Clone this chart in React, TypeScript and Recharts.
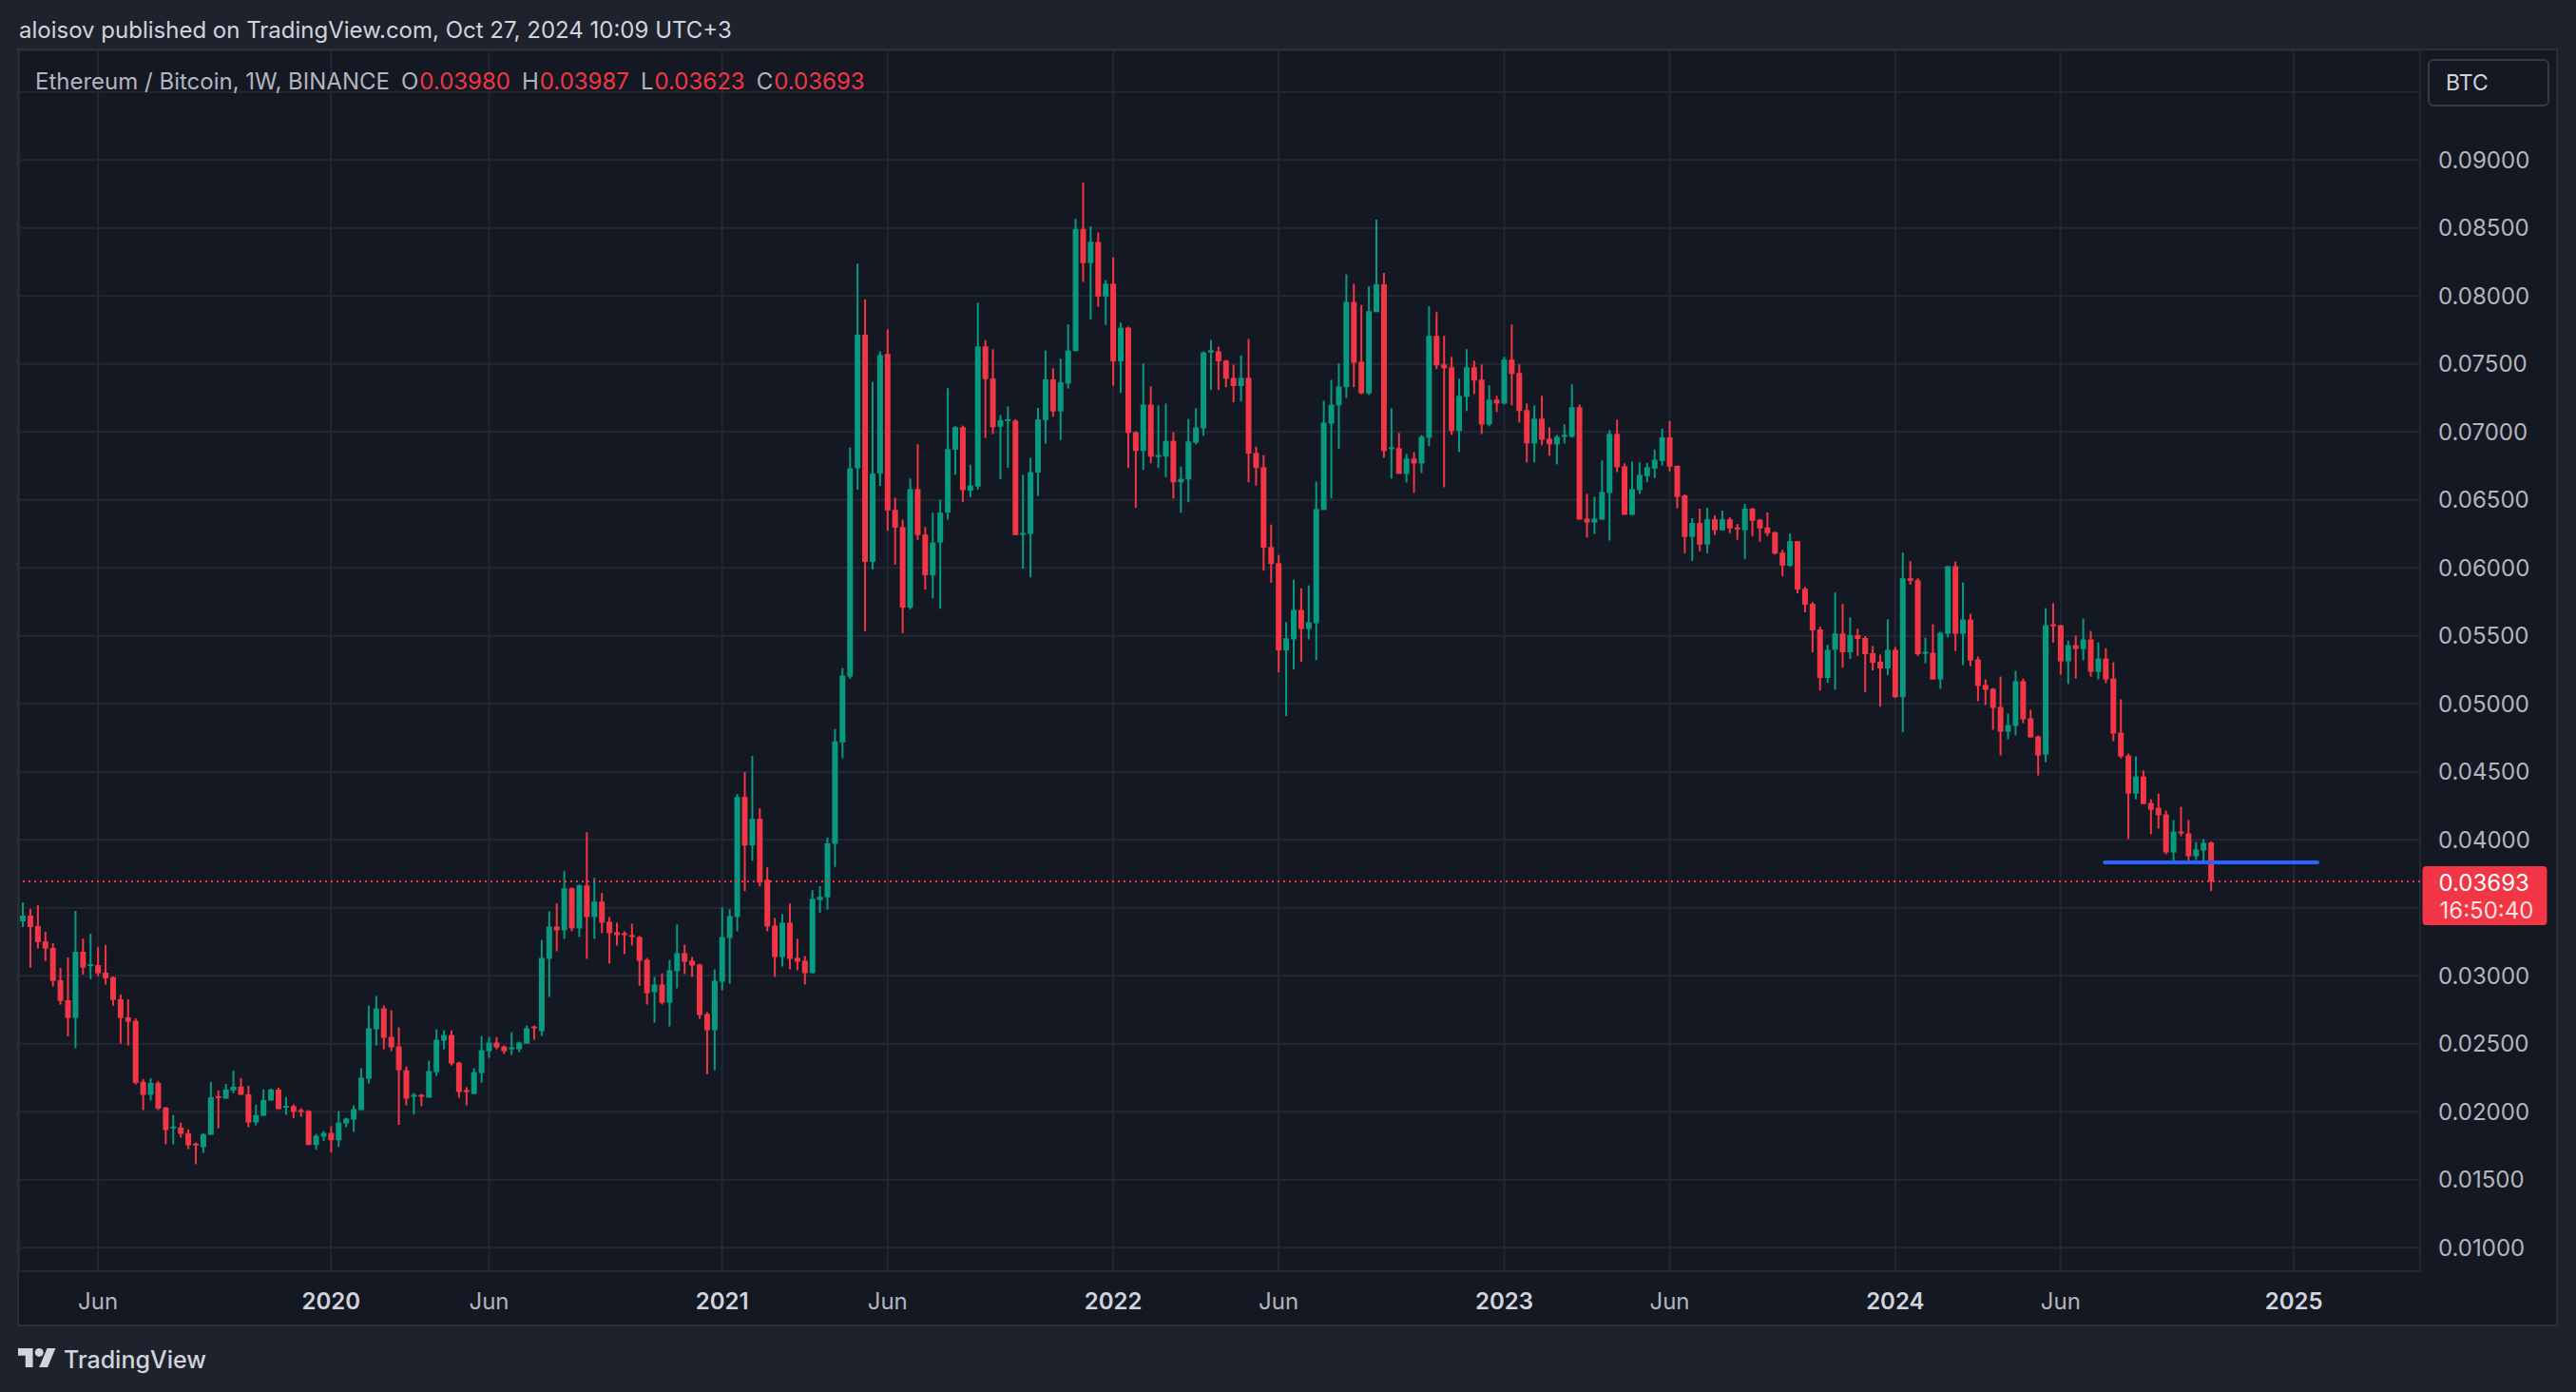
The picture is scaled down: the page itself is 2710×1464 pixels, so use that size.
import { Bar, CartesianGrid, ComposedChart, ReferenceLine, XAxis, YAxis } from 'recharts'

// ETH/BTC weekly candles (Binance). Week 1 opens Mon 2019-03-25.
const FIRST_WEEK = '2019-03-25'

const OPEN = [
  0.03400, 0.03442, 0.03365, 0.03253, 0.03204, 0.02967, 0.02820, 0.02690, 0.03176, 0.03071,
  0.03078, 0.03023, 0.02990, 0.02827, 0.02694, 0.02668, 0.02219, 0.02124, 0.02212, 0.02030,
  0.01879, 0.01884, 0.01842, 0.01765, 0.01739, 0.01830, 0.02114, 0.02096, 0.02156, 0.02184,
  0.02128, 0.01921, 0.01970, 0.02082, 0.02163, 0.02030, 0.02040, 0.02012, 0.02005, 0.01755,
  0.01816, 0.01844, 0.01790, 0.01914, 0.01942, 0.02012, 0.02242, 0.02606, 0.02760, 0.02550,
  0.02480, 0.02305, 0.02110, 0.02124, 0.02103, 0.02291, 0.02522, 0.02564, 0.02361, 0.02159,
  0.02131, 0.02284, 0.02445, 0.02508, 0.02480, 0.02459, 0.02459, 0.02501, 0.02627, 0.02592,
  0.03124, 0.03362, 0.03334, 0.03643, 0.03348, 0.03664, 0.03432, 0.03545, 0.03397, 0.03320,
  0.03313, 0.03299, 0.03285, 0.03117, 0.02879, 0.02935, 0.02802, 0.03033, 0.03166, 0.03110,
  0.03082, 0.02718, 0.02599, 0.02956, 0.03278, 0.03432, 0.04315, 0.03958, 0.04154, 0.03706,
  0.03369, 0.03138, 0.03390, 0.03131, 0.03110, 0.03019, 0.03557, 0.03577, 0.03970, 0.04716,
  0.05200, 0.06732, 0.07714, 0.06044, 0.06693, 0.07573, 0.06426, 0.06300, 0.05707, 0.06579,
  0.06245, 0.05946, 0.06186, 0.06406, 0.06869, 0.07034, 0.06567, 0.06598, 0.07628, 0.07392,
  0.07038, 0.07082, 0.07082, 0.06249, 0.06249, 0.06700, 0.07087, 0.07386, 0.07150, 0.07355,
  0.07594, 0.08492, 0.08241, 0.08397, 0.07995, 0.08090, 0.07518, 0.07766, 0.06997, 0.06860,
  0.07200, 0.06818, 0.06818, 0.06934, 0.06629, 0.06650, 0.06921, 0.07026, 0.07584, 0.07592,
  0.07524, 0.07397, 0.07337, 0.07397, 0.06845, 0.06740, 0.06153, 0.06034, 0.05392, 0.05474,
  0.05690, 0.05550, 0.05592, 0.06426, 0.07061, 0.07195, 0.07329, 0.07955, 0.07516, 0.07284,
  0.07881, 0.08085, 0.06873, 0.06880, 0.06691, 0.06803, 0.06768, 0.06957, 0.07706, 0.07496,
  0.07475, 0.07006, 0.07258, 0.07475, 0.07384, 0.07055, 0.07237, 0.07209, 0.07531, 0.07433,
  0.07160, 0.06915, 0.07097, 0.06950, 0.06908, 0.06964, 0.06964, 0.07181, 0.06362, 0.06334,
  0.06355, 0.06551, 0.06985, 0.06747, 0.06390, 0.06572, 0.06674, 0.06730, 0.06786, 0.06960,
  0.06751, 0.06533, 0.06227, 0.06329, 0.06171, 0.06357, 0.06276, 0.06357, 0.06297, 0.06276,
  0.06435, 0.06353, 0.06297, 0.06262, 0.06112, 0.06016, 0.06196, 0.05846, 0.05736, 0.05547,
  0.05190, 0.05397, 0.05517, 0.05379, 0.05505, 0.05484, 0.05372, 0.05309, 0.05260, 0.05397,
  0.05049, 0.05923, 0.05909, 0.05368, 0.05375, 0.05179, 0.05515, 0.06012, 0.05515, 0.05620,
  0.05326, 0.05138, 0.05110, 0.04977, 0.04795, 0.04837, 0.05166, 0.04893, 0.04760, 0.04627,
  0.05585, 0.05578, 0.05312, 0.05431, 0.05403, 0.05473, 0.05235, 0.05333, 0.05186, 0.04788,
  0.04620, 0.04340, 0.04466, 0.04270, 0.04235, 0.04186, 0.03907, 0.04061, 0.04047, 0.03879,
  0.03921, 0.03980,
]

const HIGH = [
  0.03540, 0.03491, 0.03519, 0.03323, 0.03239, 0.03058, 0.03134, 0.03477, 0.03274, 0.03309,
  0.03211, 0.03225, 0.02995, 0.02862, 0.02827, 0.02687, 0.02240, 0.02247, 0.02226, 0.02037,
  0.01975, 0.01919, 0.01870, 0.01772, 0.01842, 0.02219, 0.02156, 0.02205, 0.02303, 0.02247,
  0.02191, 0.02051, 0.02163, 0.02170, 0.02177, 0.02107, 0.02054, 0.02026, 0.02012, 0.01837,
  0.01858, 0.01893, 0.02005, 0.01956, 0.02047, 0.02320, 0.02781, 0.02851, 0.02781, 0.02746,
  0.02620, 0.02333, 0.02138, 0.02131, 0.02375, 0.02606, 0.02599, 0.02599, 0.02368, 0.02180,
  0.02320, 0.02557, 0.02550, 0.02550, 0.02487, 0.02585, 0.02515, 0.02634, 0.02634, 0.03263,
  0.03474, 0.03531, 0.03769, 0.03650, 0.03671, 0.04056, 0.03720, 0.03608, 0.03432, 0.03390,
  0.03327, 0.03383, 0.03292, 0.03131, 0.02991, 0.03019, 0.03117, 0.03376, 0.03229, 0.03138,
  0.03089, 0.02732, 0.03047, 0.03503, 0.03489, 0.04336, 0.04498, 0.04617, 0.04231, 0.03797,
  0.03425, 0.03453, 0.03531, 0.03271, 0.03145, 0.03629, 0.03659, 0.04017, 0.04815, 0.05263,
  0.06885, 0.08237, 0.07974, 0.07368, 0.07592, 0.07754, 0.06516, 0.06355, 0.06657, 0.06909,
  0.06300, 0.06406, 0.06500, 0.07321, 0.07042, 0.07046, 0.06759, 0.07950, 0.07675, 0.07608,
  0.07125, 0.07188, 0.07093, 0.06685, 0.06810, 0.07176, 0.07598, 0.07468, 0.07539, 0.07791,
  0.08567, 0.08834, 0.08512, 0.08466, 0.08116, 0.08284, 0.07803, 0.07774, 0.07005, 0.07503,
  0.07334, 0.07195, 0.07208, 0.06997, 0.06745, 0.07095, 0.07174, 0.07592, 0.07676, 0.07626,
  0.07529, 0.07495, 0.07563, 0.07684, 0.06892, 0.06829, 0.06318, 0.06095, 0.05600, 0.05913,
  0.05850, 0.05871, 0.06634, 0.07229, 0.07382, 0.07503, 0.08158, 0.08090, 0.07934, 0.08071,
  0.08561, 0.08169, 0.07174, 0.06992, 0.06838, 0.06852, 0.06978, 0.07924, 0.07881, 0.07706,
  0.07552, 0.07391, 0.07608, 0.07524, 0.07496, 0.07342, 0.07265, 0.07552, 0.07790, 0.07496,
  0.07209, 0.07195, 0.07265, 0.07034, 0.06978, 0.07055, 0.07349, 0.07202, 0.06544, 0.06523,
  0.06789, 0.07013, 0.07090, 0.06768, 0.06782, 0.06775, 0.06772, 0.06870, 0.07023, 0.07079,
  0.06751, 0.06540, 0.06365, 0.06435, 0.06442, 0.06386, 0.06421, 0.06372, 0.06322, 0.06470,
  0.06442, 0.06360, 0.06407, 0.06266, 0.06133, 0.06252, 0.06196, 0.05860, 0.05748, 0.05568,
  0.05435, 0.05818, 0.05734, 0.05636, 0.05552, 0.05498, 0.05425, 0.05362, 0.05622, 0.05418,
  0.06112, 0.06049, 0.05923, 0.05487, 0.05585, 0.05529, 0.06012, 0.06047, 0.05893, 0.05662,
  0.05347, 0.05179, 0.05117, 0.05200, 0.04928, 0.05242, 0.05186, 0.04956, 0.04767, 0.05704,
  0.05739, 0.05578, 0.05466, 0.05501, 0.05627, 0.05536, 0.05452, 0.05410, 0.05305, 0.05033,
  0.04634, 0.04613, 0.04508, 0.04298, 0.04340, 0.04214, 0.04145, 0.04242, 0.04145, 0.03984,
  0.04005, 0.03987,
]

const LOW = [
  0.03358, 0.03060, 0.03200, 0.03109, 0.02920, 0.02787, 0.02554, 0.02466, 0.03009, 0.02976,
  0.02997, 0.02934, 0.02780, 0.02500, 0.02487, 0.02200, 0.02012, 0.02082, 0.02012, 0.01760,
  0.01760, 0.01809, 0.01725, 0.01614, 0.01697, 0.01830, 0.01879, 0.02096, 0.02135, 0.02124,
  0.01886, 0.01900, 0.01970, 0.02082, 0.02019, 0.01977, 0.01951, 0.01963, 0.01755, 0.01720,
  0.01783, 0.01699, 0.01741, 0.01886, 0.01851, 0.02012, 0.02207, 0.02487, 0.02459, 0.02445,
  0.01903, 0.02047, 0.01981, 0.02040, 0.02103, 0.02263, 0.02459, 0.02340, 0.02103, 0.02047,
  0.02131, 0.02214, 0.02396, 0.02459, 0.02424, 0.02417, 0.02438, 0.02501, 0.02529, 0.02557,
  0.02844, 0.03180, 0.03271, 0.03327, 0.03285, 0.03124, 0.03271, 0.03313, 0.03089, 0.03222,
  0.03159, 0.03222, 0.02926, 0.02788, 0.02655, 0.02788, 0.02627, 0.02907, 0.03012, 0.02991,
  0.02683, 0.02276, 0.02304, 0.02893, 0.02942, 0.03327, 0.03622, 0.03846, 0.03657, 0.03327,
  0.02991, 0.03068, 0.03047, 0.03040, 0.02935, 0.03019, 0.03463, 0.03487, 0.03801, 0.04599,
  0.05184, 0.06575, 0.05534, 0.05989, 0.06602, 0.06272, 0.06025, 0.05518, 0.05695, 0.06205,
  0.05840, 0.05777, 0.05699, 0.06355, 0.06685, 0.06484, 0.06520, 0.06575, 0.06956, 0.06983,
  0.06653, 0.06736, 0.06241, 0.05993, 0.05930, 0.06528, 0.06913, 0.07111, 0.06940, 0.07319,
  0.07594, 0.08103, 0.07828, 0.07921, 0.07787, 0.07340, 0.07287, 0.06734, 0.06442, 0.06721,
  0.06768, 0.06734, 0.06666, 0.06510, 0.06405, 0.06482, 0.06908, 0.06971, 0.07308, 0.07308,
  0.07329, 0.07218, 0.07224, 0.06629, 0.06605, 0.05979, 0.05889, 0.05232, 0.04910, 0.05253,
  0.05308, 0.05474, 0.05321, 0.06426, 0.06510, 0.06874, 0.07250, 0.07329, 0.07276, 0.07272,
  0.07881, 0.06810, 0.06656, 0.06691, 0.06628, 0.06551, 0.06698, 0.06894, 0.07461, 0.06593,
  0.06978, 0.06852, 0.07153, 0.07279, 0.06985, 0.07041, 0.07146, 0.07202, 0.07195, 0.07069,
  0.06775, 0.06775, 0.06901, 0.06824, 0.06761, 0.06915, 0.06957, 0.06355, 0.06222, 0.06250,
  0.06355, 0.06201, 0.06705, 0.06390, 0.06390, 0.06544, 0.06630, 0.06660, 0.06751, 0.06709,
  0.06437, 0.06108, 0.06051, 0.06122, 0.06108, 0.06241, 0.06276, 0.06255, 0.06206, 0.06066,
  0.06234, 0.06192, 0.06234, 0.06098, 0.05939, 0.06009, 0.05813, 0.05673, 0.05379, 0.05098,
  0.05154, 0.05105, 0.05267, 0.05330, 0.05351, 0.05084, 0.05246, 0.04979, 0.05211, 0.05042,
  0.04790, 0.05876, 0.05351, 0.05298, 0.05179, 0.05110, 0.05487, 0.05389, 0.05284, 0.05277,
  0.05019, 0.04991, 0.04809, 0.04620, 0.04739, 0.04767, 0.04858, 0.04753, 0.04473, 0.04571,
  0.05452, 0.05214, 0.05145, 0.05186, 0.05319, 0.05200, 0.05179, 0.05152, 0.04725, 0.04599,
  0.04005, 0.04298, 0.04263, 0.04040, 0.04082, 0.03893, 0.03830, 0.04026, 0.03837, 0.03851,
  0.03837, 0.03623,
]

const CLOSE = [
  0.03442, 0.03358, 0.03248, 0.03200, 0.02962, 0.02815, 0.02690, 0.03176, 0.03060, 0.03085,
  0.03018, 0.02981, 0.02822, 0.02690, 0.02662, 0.02212, 0.02124, 0.02212, 0.02023, 0.01865,
  0.01891, 0.01837, 0.01753, 0.01753, 0.01835, 0.02107, 0.02100, 0.02163, 0.02184, 0.02124,
  0.01921, 0.01975, 0.02086, 0.02163, 0.02019, 0.02044, 0.01998, 0.01998, 0.01755, 0.01823,
  0.01844, 0.01790, 0.01921, 0.01949, 0.02019, 0.02250, 0.02613, 0.02760, 0.02543, 0.02473,
  0.02305, 0.02096, 0.02124, 0.02110, 0.02298, 0.02529, 0.02564, 0.02354, 0.02145, 0.02145,
  0.02291, 0.02452, 0.02508, 0.02473, 0.02445, 0.02473, 0.02508, 0.02613, 0.02613, 0.03131,
  0.03362, 0.03334, 0.03643, 0.03348, 0.03664, 0.03432, 0.03545, 0.03390, 0.03313, 0.03299,
  0.03299, 0.03285, 0.03110, 0.02872, 0.02935, 0.02802, 0.03040, 0.03166, 0.03103, 0.03075,
  0.02711, 0.02599, 0.02963, 0.03285, 0.03439, 0.04315, 0.03958, 0.04154, 0.03685, 0.03362,
  0.03138, 0.03390, 0.03124, 0.03103, 0.03019, 0.03566, 0.03581, 0.03974, 0.04724, 0.05208,
  0.06732, 0.07714, 0.06044, 0.06693, 0.07565, 0.06422, 0.06296, 0.05707, 0.06579, 0.06241,
  0.05946, 0.06186, 0.06406, 0.06873, 0.07034, 0.06571, 0.06606, 0.07628, 0.07388, 0.07034,
  0.07086, 0.07093, 0.06241, 0.06257, 0.06704, 0.07091, 0.07386, 0.07150, 0.07366, 0.07598,
  0.08492, 0.08241, 0.08398, 0.07995, 0.08090, 0.07518, 0.07766, 0.06992, 0.06860, 0.07200,
  0.06818, 0.06829, 0.06934, 0.06629, 0.06655, 0.06929, 0.07032, 0.07584, 0.07600, 0.07518,
  0.07392, 0.07337, 0.07397, 0.06840, 0.06734, 0.06147, 0.06029, 0.05392, 0.05482, 0.05690,
  0.05550, 0.05600, 0.06432, 0.07068, 0.07200, 0.07334, 0.07955, 0.07508, 0.07284, 0.07888,
  0.08085, 0.06859, 0.06887, 0.06691, 0.06803, 0.06768, 0.06964, 0.07706, 0.07489, 0.07468,
  0.07006, 0.07265, 0.07475, 0.07377, 0.07055, 0.07237, 0.07209, 0.07531, 0.07426, 0.07153,
  0.06915, 0.07097, 0.06943, 0.06908, 0.06964, 0.06978, 0.07181, 0.06355, 0.06334, 0.06362,
  0.06558, 0.06985, 0.06740, 0.06390, 0.06579, 0.06684, 0.06740, 0.06795, 0.06960, 0.06744,
  0.06521, 0.06227, 0.06329, 0.06171, 0.06357, 0.06276, 0.06357, 0.06290, 0.06283, 0.06435,
  0.06346, 0.06290, 0.06255, 0.06105, 0.06016, 0.06196, 0.05841, 0.05729, 0.05540, 0.05190,
  0.05397, 0.05517, 0.05379, 0.05505, 0.05477, 0.05365, 0.05302, 0.05260, 0.05397, 0.05049,
  0.05923, 0.05904, 0.05365, 0.05382, 0.05179, 0.05522, 0.06012, 0.05515, 0.05620, 0.05319,
  0.05131, 0.05103, 0.04970, 0.04795, 0.04844, 0.05166, 0.04886, 0.04753, 0.04620, 0.05578,
  0.05571, 0.05312, 0.05431, 0.05403, 0.05473, 0.05235, 0.05333, 0.05179, 0.04781, 0.04613,
  0.04340, 0.04466, 0.04263, 0.04221, 0.04180, 0.03907, 0.04061, 0.04047, 0.03879, 0.03928,
  0.03977, 0.03693,
]

const PRICE_TICKS = [
  0.01, 0.015, 0.02, 0.025, 0.03, 0.035, 0.04, 0.045, 0.05,
  0.055, 0.06, 0.065, 0.07, 0.075, 0.08, 0.085, 0.09, 0.095,
]
const TIME_TICK_DATES = [
  '2019-06-03', '2020-01-06', '2020-06-01', '2021-01-04', '2021-06-07', '2022-01-03',
  '2022-06-06', '2023-01-02', '2023-06-05', '2024-01-01', '2024-06-03', '2025-01-06',
]
const TIME_TICK_LABELS = ['Jun', '2020', 'Jun', '2021', 'Jun', '2022', 'Jun', '2023', 'Jun', '2024', 'Jun', '2025']

const LAST_PRICE = 0.03693
const COUNTDOWN = '16:50:40'
// horizontal level drawn by the author
const LEVEL_PRICE = 0.03834
const LEVEL_FROM = '2024-07-14'
const LEVEL_TO = '2025-01-28'

const GREEN = '#089981'
const RED = '#F23645'
const BLUE = '#2962FF'
const PAGE_BG = '#1E222D'
const CHART_BG = '#141823'
const GRID = '#232733'
const AXIS_TEXT = '#B2B5BE'
const FONT = 'Inter, "Noto Sans", sans-serif'

const WEEK_MS = 7 * 24 * 3600 * 1000
const weekOf = (date: string) => 1 + (Date.parse(date) - Date.parse(FIRST_WEEK)) / WEEK_MS

const TIME_TICKS = TIME_TICK_DATES.map(weekOf)
const labelOf = (w: number) => TIME_TICK_LABELS[TIME_TICKS.findIndex((t) => Math.abs(t - w) < 0.01)] ?? ''

const DATA = OPEN.map((o, k) => ({
  week: k + 1,
  o,
  h: HIGH[k],
  l: LOW[k],
  c: CLOSE[k],
  range: [LOW[k], HIGH[k]],
}))

const W = 2669
const H = 1340

// wick from high to low, body between open and close, both scaled off the range bar
function Candle(props: any) {
  const { x, y, width, height, payload } = props
  if (!payload || x == null) return null
  const { o, h, l, c } = payload
  const top = Math.min(y, y + height)
  const span = Math.abs(height)
  const k = h > l ? span / (h - l) : 0
  const mid = x + width / 2
  const hi = Math.max(o, c)
  const lo = Math.min(o, c)
  const bodyTop = top + (h - hi) * k
  const bodyH = Math.max(2, (hi - lo) * k)
  const fill = c >= o ? GREEN : RED
  return (
    <g>
      <rect x={mid - 1} y={top} width={2} height={Math.max(span, 2)} fill={fill} />
      <rect x={mid - 3} y={bodyTop} width={6} height={bodyH} fill={fill} />
    </g>
  )
}

// labels under the last-price tag and the BTC button are hidden, as on the terminal
function PriceTick(props: any) {
  const { x, y, payload } = props
  if (Math.abs(payload.value - LAST_PRICE) < 0.0025 || payload.value > 0.092) return null
  return (
    <text x={x + 19} y={y} fill={AXIS_TEXT} fontSize={24} fontFamily={FONT} dominantBaseline="central">
      {payload.value.toFixed(5)}
    </text>
  )
}

function TimeTick(props: any) {
  const { x, y, payload } = props
  const label = labelOf(payload.value)
  const year = label !== 'Jun'
  return (
    <text
      x={x}
      y={y + 31}
      textAnchor="middle"
      dominantBaseline="central"
      fill={year ? '#D1D4DC' : AXIS_TEXT}
      fontWeight={year ? 600 : 400}
      fontSize={24}
      fontFamily={FONT}
    >
      {label}
    </text>
  )
}

function PriceTag(props: any) {
  const vb = props.viewBox
  if (!vb) return null
  const x = vb.x + vb.width + 2.5
  const y = vb.y
  return (
    <g fontFamily={FONT} fontSize={24}>
      <rect x={x} y={y - 16} width={131} height={62} rx={4} fill={RED} />
      <text x={x + 17} y={y + 1} fill="#FFFFFF" dominantBaseline="central">
        {LAST_PRICE.toFixed(5)}
      </text>
      <text x={x + 18} y={y + 30} fill="#FFFFFF" fillOpacity={0.85} dominantBaseline="central">
        {COUNTDOWN}
      </text>
    </g>
  )
}

function Logo() {
  return (
    <svg width={40} height={20} viewBox="0 4 36 18" style={{ position: 'absolute', left: 19, top: 1418 }}>
      <path d="M14 22H7V11H0V4h14v18z" fill="#D1D4DC" />
      <circle cx={20} cy={8} r={4} fill="#D1D4DC" />
      <path d="M28 22h-8l7.5-18h8z" fill="#D1D4DC" />
    </svg>
  )
}

const OHLC = [
  ['O', '0.03980'],
  ['H', '0.03987'],
  ['L', '0.03623'],
  ['C', '0.03693'],
]

export default function App() {
  return (
    <div
      style={{
        position: 'fixed',
        left: 0,
        top: 0,
        width: 2710,
        height: 1464,
        background: PAGE_BG,
        fontFamily: FONT,
        overflow: 'hidden',
      }}
    >
      <div style={{ position: 'absolute', left: 20, top: 17, fontSize: 24, lineHeight: '30px', color: '#D1D4DC', whiteSpace: 'nowrap' }}>
        aloisov published on TradingView.com, Oct 27, 2024 10:09 UTC+3
      </div>

      <div
        style={{
          position: 'absolute',
          left: 18,
          top: 51,
          width: W,
          height: H,
          border: '2px solid #2A2E39',
          background: CHART_BG,
        }}
      >
        <ComposedChart width={W} height={H} data={DATA} margin={{ top: 0, right: 0, bottom: 0, left: 0 }}>
          <CartesianGrid stroke={GRID} strokeWidth={2} />
          <XAxis
            dataKey="week"
            type="number"
            domain={[0.494, 319.8]}
            allowDataOverflow
            ticks={TIME_TICKS}
            interval={0}
            height={56}
            axisLine={false}
            tickLine={false}
            tickSize={0}
            tickMargin={0}
            tick={<TimeTick />}
          />
          <YAxis
            orientation="right"
            type="number"
            domain={[0.008266, 0.098056]}
            allowDataOverflow
            ticks={PRICE_TICKS}
            interval={0}
            width={143}
            axisLine={false}
            tickLine={false}
            tickSize={0}
            tickMargin={0}
            tick={<PriceTick />}
          />
          <ReferenceLine
            y={LAST_PRICE}
            stroke={RED}
            strokeWidth={2}
            strokeDasharray="2 4"
            label={<PriceTag />}
          />
          <Bar dataKey="range" barSize={6} shape={<Candle />} isAnimationActive={false} />
          <ReferenceLine
            segment={[
              { x: weekOf(LEVEL_FROM), y: LEVEL_PRICE },
              { x: weekOf(LEVEL_TO), y: LEVEL_PRICE },
            ]}
            stroke={BLUE}
            strokeWidth={4}
            strokeLinecap="round"
          />
        </ComposedChart>

        <div style={{ position: 'absolute', left: 17, top: 18, fontSize: 24, lineHeight: '30px', color: AXIS_TEXT, whiteSpace: 'nowrap' }}>
          <span>Ethereum / Bitcoin, 1W, BINANCE</span>
          {OHLC.map(([k, v]) => (
            <span key={k} style={{ marginLeft: 12 }}>
              {k}
              <span style={{ color: RED, marginLeft: 1 }}>{v}</span>
            </span>
          ))}
        </div>

        <div
          style={{
            position: 'absolute',
            left: 2534,
            top: 9,
            width: 128,
            height: 50,
            border: '2px solid #363A45',
            borderRadius: 6,
            background: CHART_BG,
            color: '#D1D4DC',
            fontSize: 23,
            lineHeight: '46px',
            paddingLeft: 17,
            boxSizing: 'border-box',
          }}
        >
          BTC
        </div>
      </div>

      <Logo />
      <div style={{ position: 'absolute', left: 67, top: 1414, fontSize: 25, lineHeight: '32px', color: '#D1D4DC', fontWeight: 500 }}>
        TradingView
      </div>
    </div>
  )
}
